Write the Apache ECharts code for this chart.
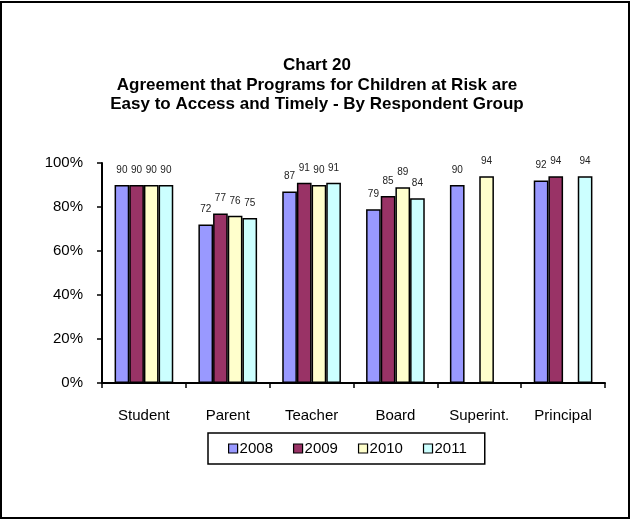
<!DOCTYPE html>
<html><head><meta charset="utf-8">
<script src="https://cdn.jsdelivr.net/npm/echarts@6/dist/echarts.min.js"></script>
<style>html,body{margin:0;padding:0;background:#fff}#c{width:631px;height:520px}</style>
</head><body><div id="c"></div>
<script>
const categories = ['Student','Parent','Teacher','Board','Superint.','Principal'];
const years = ['2008','2009','2010','2011'];
const v2008 = [90, 72, 87, 79, 90, 92];
const v2009 = [90, 77, 91, 85, null, 94];
const v2010 = [90, 76, 90, 89, 94, null];
const v2011 = [90, 75, 91, 84, null, 94];
const yTicks = [0, 20, 40, 60, 80, 100];
const colors = ['#9999FF','#993366','#FFFFCC','#CCFFFF'];
const seriesData = [v2008, v2009, v2010, v2011];
const font = '"Liberation Sans", Arial, sans-serif';

const chart = echarts.init(document.getElementById('c'), null, {renderer:'canvas'});
chart.setOption({
  animation: false,
  backgroundColor: '#fff',
  graphic: [{type:'rect', shape:{x:1, y:2, width:628, height:516}, style:{fill:'none', stroke:'#000', lineWidth:2}, silent:true}],
  title: {
    text: 'Chart 20\nAgreement that Programs for Children at Risk are\nEasy to Access and Timely - By Respondent Group',
    left: 312, top: 51, textAlign: 'center',
    textStyle: {fontFamily: font, fontSize: 17, fontWeight: 'bold', color: '#000', lineHeight: 19.5}
  },
  legend: {
    data: years,
    left: 208, top: 433,
    padding: [8, 18, 8, 20],
    itemGap: 20,
    itemWidth: 9, itemHeight: 9,
    icon: 'rect',
    borderColor: '#000', borderWidth: 1.5,
    itemStyle: {borderColor: '#000', borderWidth: 1.2},
    textStyle: {fontFamily: font, fontSize: 15, color: '#000', padding: [0,0,0,-3]}
  },
  grid: {left: 102, right: 26, top: 163, bottom: 137, containLabel: false},
  xAxis: {
    type: 'category', data: categories,
    axisLine: {lineStyle: {color: '#000', width: 2}},
    axisTick: {show: true, length: 5, lineStyle: {color: '#000', width: 1.5}},
    axisLabel: {fontFamily: font, fontSize: 15, color: '#000', margin: 25}
  },
  yAxis: {
    type: 'value', min: 0, max: 100, interval: 20,
    axisLine: {show: true, lineStyle: {color: '#000', width: 2}},
    axisTick: {show: true, length: 5, lineStyle: {color: '#000', width: 1.5}},
    splitLine: {show: false},
    axisLabel: {fontFamily: font, fontSize: 15, color: '#000', margin: 19, formatter: v => yTicks.includes(v) ? v + '%' : ''}
  },
  series: years.map((y, i) => ({
    name: y, type: 'bar', data: seriesData[i],
    barGap: '0%', barCategoryGap: '30%',
    itemStyle: {color: colors[i], borderColor: '#000', borderWidth: 1.5},
    label: {show: true, position: 'top', distance: 10, fontFamily: font, fontSize: 10, color: '#222'}
  }))
});
</script></body></html>
